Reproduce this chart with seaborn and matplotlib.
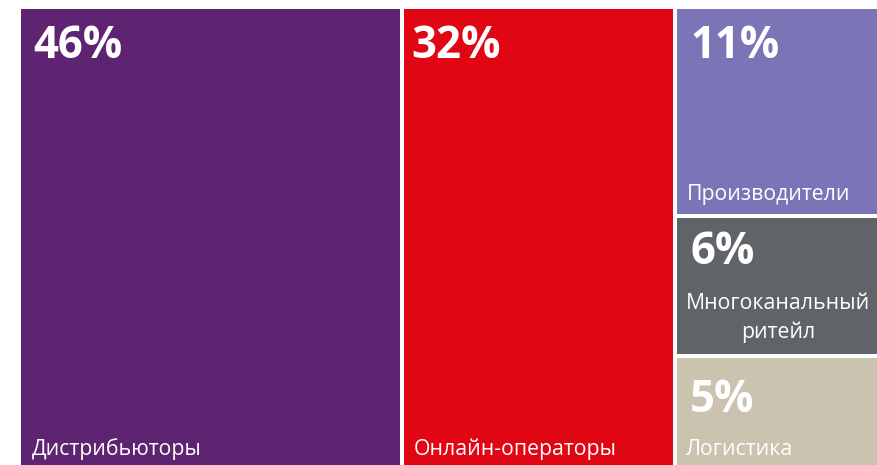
import matplotlib
matplotlib.use("Agg")
import matplotlib.pyplot as plt
import seaborn as sns
import pandas as pd

# ---- data ----
categories = ["Дистрибьюторы", "Онлайн-операторы", "Производители",
              "Многоканальный\nритейл", "Логистика"]
shares = [46, 32, 11, 6, 5]

# ---- style / layout (pixel boxes: x0, x1, y0, y1) ----
colors = ["#5E2472", "#E10613", "#7B74B6", "#606367", "#CBC3AF"]
boxes = [
    (21, 399.5, 9, 470),
    (404, 673, 9, 470),
    (677, 880, 9, 213.5),
    (677, 880, 218, 353.5),
    (677, 880, 358, 470),
]
pct_pos = [(33, 58), (411, 58), (690, 58), (690, 264), (690, 412)]
lab_pos = [(32, 455, "left"), (414, 455, "left"), (687, 200, "left"),
           (778, 338, "center"), (686, 455, "left")]

sns.set_theme(style="white")
plt.rcParams["font.family"] = ["Open Sans", "DejaVu Sans"]

df = pd.DataFrame({
    "cat": categories, "share": shares, "color": colors,
    "x0": [b[0] for b in boxes], "x1": [b[1] for b in boxes],
    "y0": [b[2] for b in boxes], "y1": [b[3] for b in boxes],
})

fig = plt.figure(figsize=(8.77, 4.65), dpi=100)
ax = fig.add_axes([0, 0, 1, 1])
ax.set_xlim(0, 877)
ax.set_ylim(465, 0)
ax.axis("off")

ax.bar(df["x0"], df["y1"] - df["y0"], width=df["x1"] - df["x0"],
       bottom=df["y0"], align="edge", color=df["color"], linewidth=0)

for i, row in df.iterrows():
    px, py = pct_pos[i]
    ax.text(px, py, f"{row['share']}%", color="white", fontsize=31.5,
            fontweight="bold", ha="left", va="baseline")
    lx, ly, ha = lab_pos[i]
    ax.text(lx, ly, row["cat"], color="white", fontsize=15.3, ha=ha,
            va="baseline", linespacing=1.45, multialignment="center")

fig.savefig("out.png", dpi=100)
